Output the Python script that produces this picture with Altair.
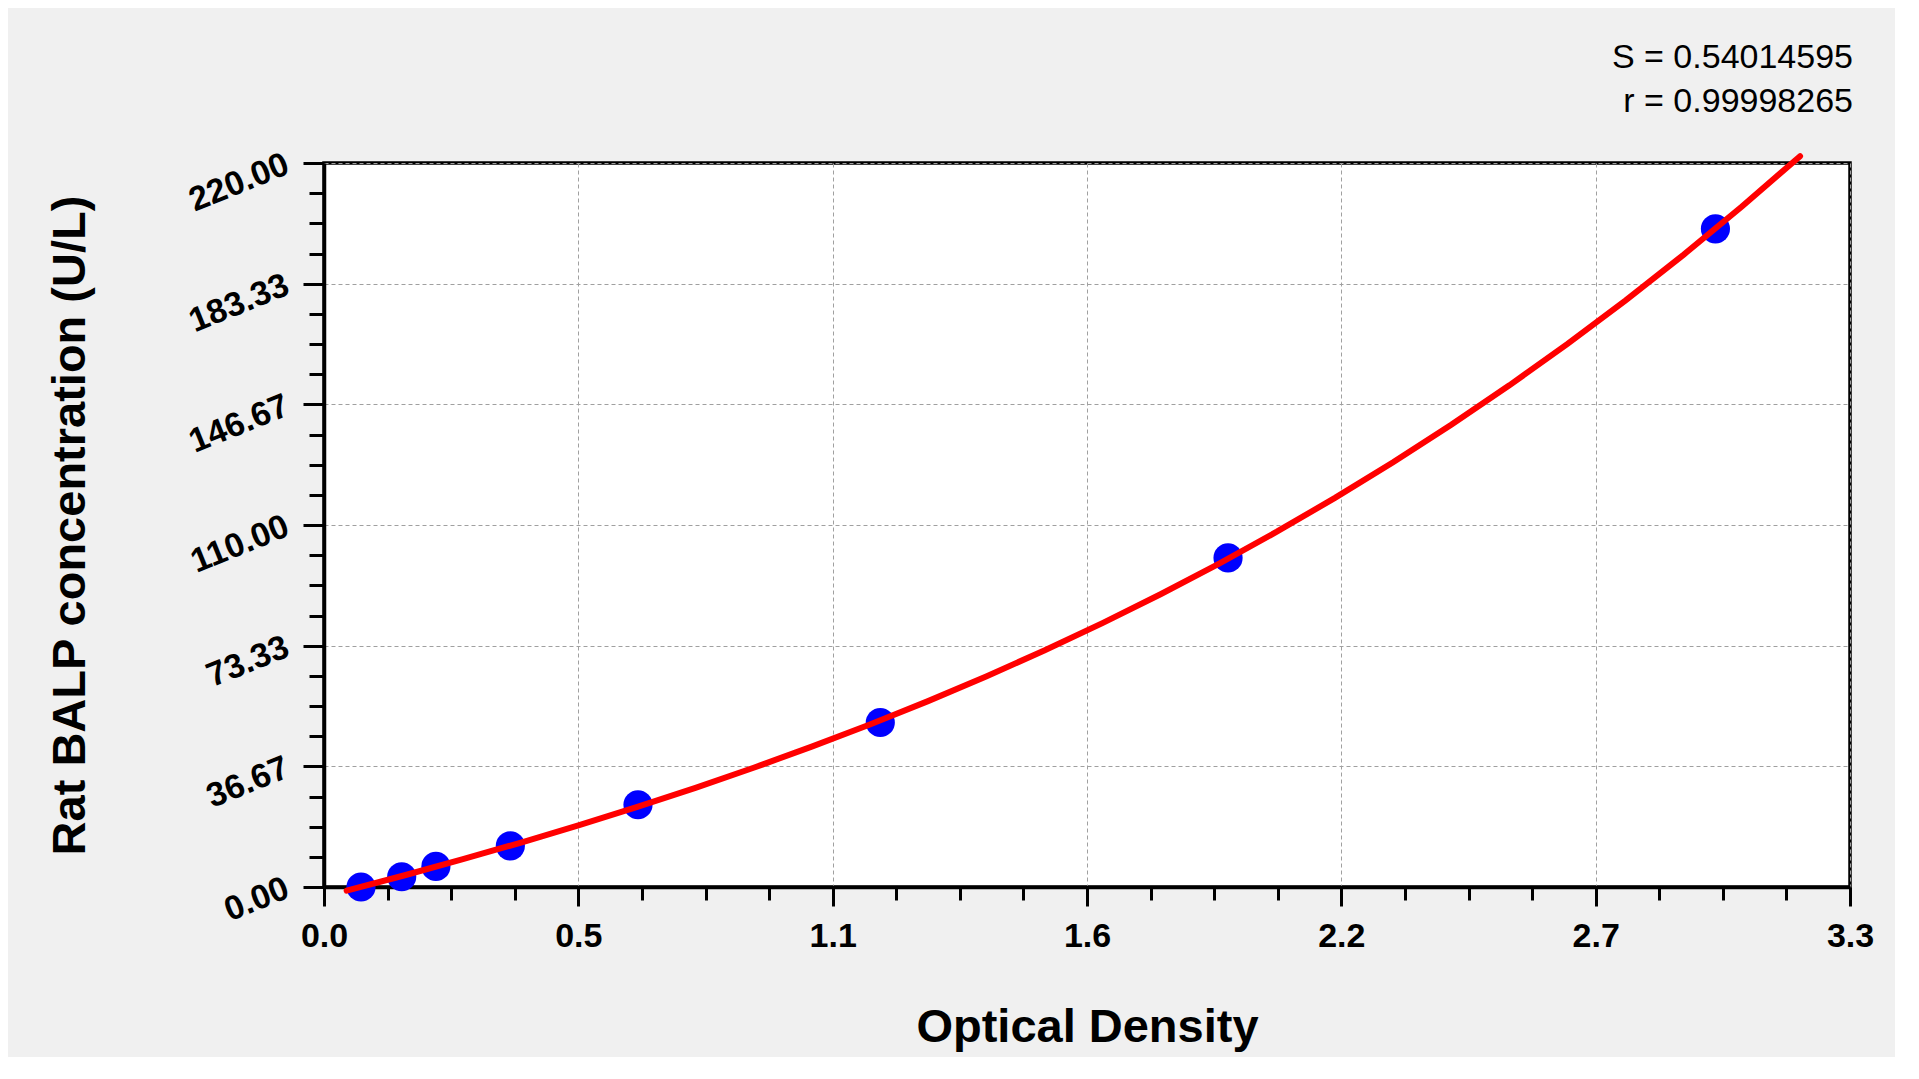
import json
import altair as alt
import pandas as pd

# ---- data ----
od = [0.080, 0.168, 0.242, 0.403, 0.679, 1.203, 1.955, 3.009]
conc = [0.0, 3.125, 6.25, 12.5, 25.0, 50.0, 100.0, 200.0]
curve_extent = [0.049, 3.192]

x_major = [0, 0.55, 1.1, 1.65, 2.2, 2.75, 3.3]
x_labels = ["0.0", "0.5", "1.1", "1.6", "2.2", "2.7", "3.3"]
x_minor = [round(i * 0.1375, 4) for i in range(25) if i % 4]
y_major = [220 * i / 6 for i in range(7)]
y_minor = [220 * i / 24 for i in range(25) if i % 4]

stats_text = ["S = 0.54014595", "r = 0.99998265"]
x_title = "Optical Density"
y_title = "Rat BALP concentration (U/L)"

df = pd.DataFrame({"od": od, "conc": conc})

FONT = "Liberation Sans"
xscale = alt.Scale(domain=[0, 3.3], nice=False, zero=False)
yscale = alt.Scale(domain=[0, 220], nice=False, zero=False)

x_label_expr = "{}[indexof({}, datum.value)]".format(json.dumps(x_labels), json.dumps(x_major))

major_x = alt.Axis(
    orient="bottom", values=x_major, labelExpr=x_label_expr,
    grid=True, gridColor="#a0a0a0", gridDash=[4, 3], gridWidth=1,
    domainColor="black", domainWidth=3.5, tickColor="black", tickWidth=3, tickSize=19,
    labelFont=FONT, labelFontSize=34, labelFontWeight="bold", labelColor="black",
    labelPadding=13, labelFlush=False, labelOverlap=False,
    title=x_title, titleFont=FONT, titleFontSize=47, titleFontWeight="bold",
    titleColor="black", titleBaseline="alphabetic", titleY=154,
)
major_y = alt.Axis(
    orient="left", values=y_major, format=".2f",
    grid=True, gridColor="#a0a0a0", gridDash=[4, 3], gridWidth=1,
    domainColor="black", domainWidth=3.5, tickColor="black", tickWidth=3, tickSize=21,
    labelFont=FONT, labelFontSize=34, labelFontWeight="bold", labelColor="black",
    labelAngle=338, labelAlign="right", labelBaseline="middle", labelPadding=16,
    labelFlush=False, labelOverlap=False,
    title=y_title, titleFont=FONT, titleFontSize=47, titleFontWeight="bold",
    titleColor="black", titleAngle=270, titleBaseline="alphabetic", titleX=-240,
)
minor_x = alt.Axis(orient="bottom", values=x_minor, labels=False, domain=False, grid=False,
                   tickColor="black", tickWidth=3, tickSize=13, title=None)
minor_y = alt.Axis(orient="left", values=y_minor, labels=False, domain=False, grid=False,
                   tickColor="black", tickWidth=3, tickSize=15, title=None)

base = alt.Chart(df)

minor = base.mark_point(opacity=0).encode(
    x=alt.X("od:Q", scale=xscale, axis=minor_x),
    y=alt.Y("conc:Q", scale=yscale, axis=minor_y),
)

points = base.mark_circle(size=850, color="#0000ff", opacity=1).encode(
    x=alt.X("od:Q", scale=xscale, axis=major_x),
    y=alt.Y("conc:Q", scale=yscale, axis=major_y),
)

curve = base.transform_regression(
    "od", "conc", method="poly", order=3, extent=curve_extent
).mark_line(color="#ff0000", strokeWidth=6, strokeCap="round").encode(
    x=alt.X("od:Q", scale=xscale, axis=None),
    y=alt.Y("conc:Q", scale=yscale, axis=None),
)

chart = alt.layer(minor, points, curve).resolve_axis(
    x="independent", y="independent"
).properties(
    width=1526,
    height=724,
    autosize=alt.AutoSizeParams(type="none"),
    padding={"left": 316, "top": 155, "right": 45, "bottom": 170},
    background="#f0f0f0",
    title=alt.TitleParams(
        text=stats_text, anchor="end", frame="group", font=FONT, fontSize=34,
        fontWeight="normal", color="black", lineHeight=44, offset=25, dx=3,
    ),
).configure_view(stroke="black", strokeWidth=3.5, fill="white")

chart.save("out.html", embed_options={"renderer": "svg", "actions": False})
